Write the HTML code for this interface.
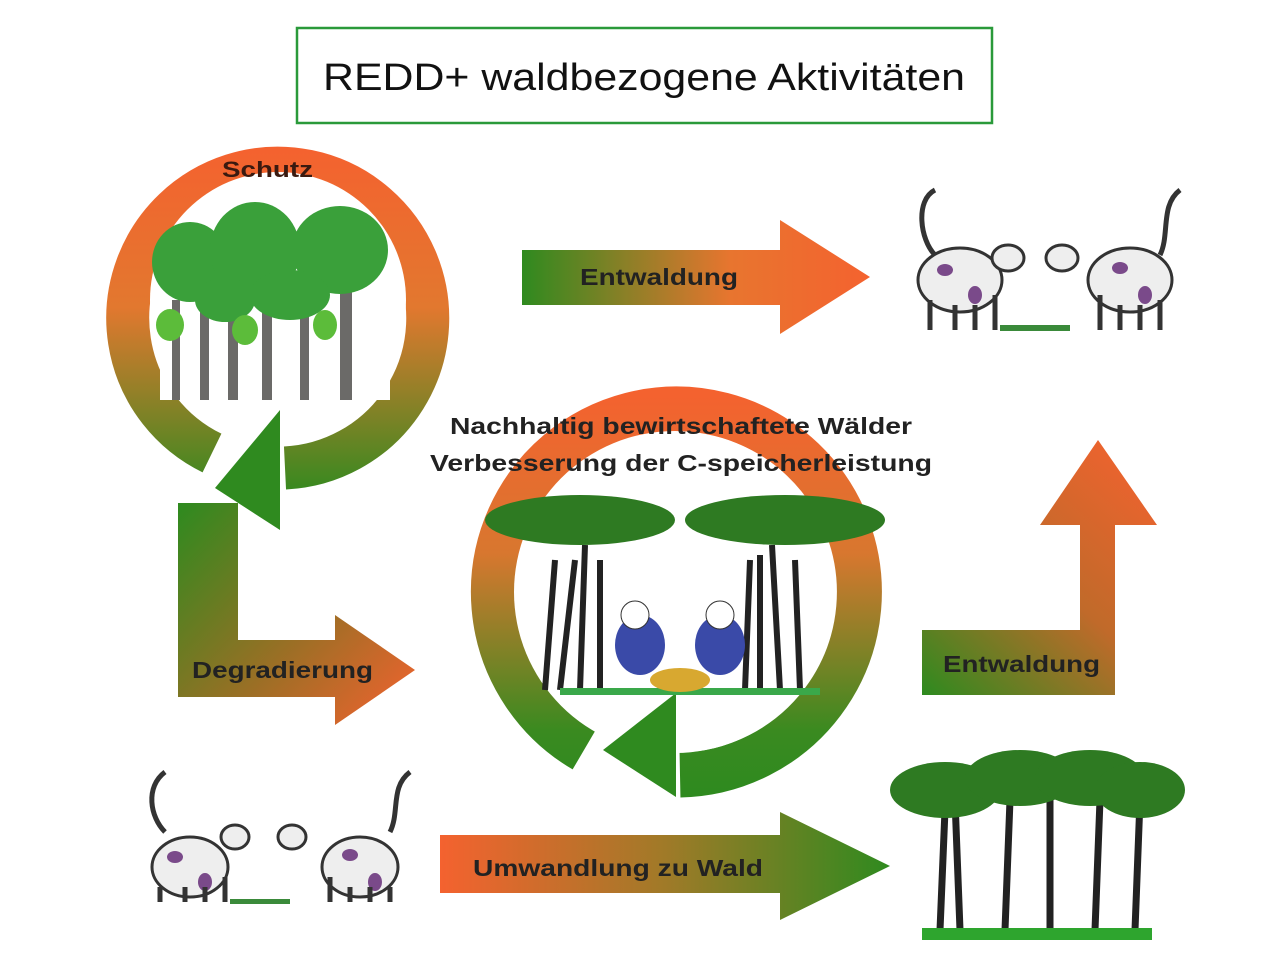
<!DOCTYPE html>
<html><head><meta charset="utf-8"><style>
html,body{margin:0;padding:0;background:#fff;}
svg{display:block;}
text{font-family:"Liberation Sans",sans-serif;}
</style></head><body>
<svg width="1280" height="959" viewBox="0 0 1280 959" xmlns="http://www.w3.org/2000/svg">
<defs>
<linearGradient id="g1" gradientUnits="userSpaceOnUse" x1="0" y1="150" x2="0" y2="500"><stop offset="0" stop-color="#f4622f"/><stop offset="0.45" stop-color="#e2782f"/><stop offset="1" stop-color="#2f8a1f"/></linearGradient>
<linearGradient id="g2" gradientUnits="userSpaceOnUse" x1="0" y1="395" x2="0" y2="790"><stop offset="0" stop-color="#f4622f"/><stop offset="0.4" stop-color="#d8772f"/><stop offset="0.85" stop-color="#3a8a20"/><stop offset="1" stop-color="#2f8a1f"/></linearGradient>
<linearGradient id="gh" x1="0" y1="0" x2="1" y2="0"><stop offset="0" stop-color="#2f8a1f"/><stop offset="0.6" stop-color="#e8752f"/><stop offset="1" stop-color="#f4622f"/></linearGradient>
<linearGradient id="gb" x1="0" y1="0" x2="1" y2="0"><stop offset="0" stop-color="#f4622f"/><stop offset="0.5" stop-color="#a07a28"/><stop offset="1" stop-color="#2f8a1f"/></linearGradient>
<linearGradient id="gl" gradientUnits="userSpaceOnUse" x1="180" y1="505" x2="415" y2="720"><stop offset="0" stop-color="#2f8a1f"/><stop offset="0.55" stop-color="#9a6f25"/><stop offset="1" stop-color="#f4622f"/></linearGradient>
<linearGradient id="gr" gradientUnits="userSpaceOnUse" x1="925" y1="695" x2="1150" y2="445"><stop offset="0" stop-color="#2f8a1f"/><stop offset="0.5" stop-color="#c06a2a"/><stop offset="1" stop-color="#f4622f"/></linearGradient>
</defs>

<rect x="297" y="28" width="695" height="95" fill="#fff" stroke="#2a9a3a" stroke-width="2.5"/>
<text x="323" y="90" font-size="38" textLength="642" lengthAdjust="spacingAndGlyphs" fill="#111">REDD+ waldbezogene Aktivitäten</text>

<!-- circle 1 -->
<path d="M212 453 A150 150 0 1 1 285 468" fill="none" stroke="url(#g1)" stroke-width="43"/>
<circle cx="278" cy="300" r="128" fill="#fff"/>
<polygon points="280,410 280,530 215,488" fill="#2f8a1f"/>
<g>
<rect x="160" y="300" width="230" height="100" fill="#fff"/>
<g fill="#6b6a68"><rect x="172" y="300" width="8" height="100"/><rect x="200" y="300" width="9" height="100"/><rect x="228" y="300" width="10" height="100"/><rect x="262" y="300" width="10" height="100"/><rect x="300" y="300" width="9" height="100"/><rect x="340" y="280" width="12" height="120"/></g>
<g fill="#3aa03a"><ellipse cx="190" cy="262" rx="38" ry="40"/><ellipse cx="255" cy="250" rx="45" ry="48"/><ellipse cx="340" cy="250" rx="48" ry="44"/><ellipse cx="225" cy="300" rx="30" ry="22"/><ellipse cx="290" cy="295" rx="40" ry="25"/></g>
<g fill="#5cbc3a"><ellipse cx="170" cy="325" rx="14" ry="16"/><ellipse cx="245" cy="330" rx="13" ry="15"/><ellipse cx="325" cy="325" rx="12" ry="15"/></g>
</g>
<text x="222" y="177" font-size="22" font-weight="bold" textLength="91" lengthAdjust="spacingAndGlyphs" fill="#3a1a10">Schutz</text>

<!-- top arrow -->
<polygon points="522,250 780,250 780,220 870,277 780,334 780,305 522,305" fill="url(#gh)"/>
<text x="580" y="285" font-size="23" font-weight="bold" textLength="158" lengthAdjust="spacingAndGlyphs" fill="#222">Entwaldung</text>

<!-- L arrow Degradierung -->
<polygon points="178,503 238,503 238,640 335,640 335,615 415,670 335,725 335,697 178,697" fill="url(#gl)"/>
<text x="192" y="678" font-size="23" font-weight="bold" textLength="181" lengthAdjust="spacingAndGlyphs" fill="#222">Degradierung</text>

<!-- circle 2 -->
<path d="M584 750 A183 183 0 1 1 680 775" fill="none" stroke="url(#g2)" stroke-width="45"/>
<circle cx="675" cy="592" r="161" fill="#fff"/>
<polygon points="676,693 676,797 603,750" fill="#2f8a1f"/>
<g stroke="#222" stroke-width="6" fill="none"><path d="M560 690 L575 560 M580 690 L585 545 M600 690 L600 560 M545 690 L555 560"/><path d="M760 690 L760 555 M780 690 L772 545 M800 690 L795 560 M745 690 L750 560"/></g>
<ellipse cx="580" cy="520" rx="95" ry="25" fill="#2e7a22"/>
<ellipse cx="785" cy="520" rx="100" ry="25" fill="#2e7a22"/>
<rect x="560" y="688" width="260" height="7" fill="#3aa84a"/>
<g><ellipse cx="640" cy="645" rx="25" ry="30" fill="#3a4aa8"/><ellipse cx="720" cy="645" rx="25" ry="30" fill="#3a4aa8"/><circle cx="635" cy="615" r="14" fill="#fff" stroke="#333"/><circle cx="720" cy="615" r="14" fill="#fff" stroke="#333"/><ellipse cx="680" cy="680" rx="30" ry="12" fill="#d8a830"/></g>
<text x="450" y="434" font-size="23" font-weight="bold" textLength="462" lengthAdjust="spacingAndGlyphs" fill="#222">Nachhaltig bewirtschaftete Wälder</text>
<text x="430" y="471" font-size="23" font-weight="bold" textLength="502" lengthAdjust="spacingAndGlyphs" fill="#222">Verbesserung der C-speicherleistung</text>

<!-- right L arrow -->
<polygon points="922,630 1080,630 1080,525 1040,525 1098,440 1157,525 1115,525 1115,695 922,695" fill="url(#gr)"/>
<text x="943" y="672" font-size="23" font-weight="bold" textLength="157" lengthAdjust="spacingAndGlyphs" fill="#222">Entwaldung</text>

<!-- bottom arrow -->
<polygon points="440,835 780,835 780,812 890,866 780,920 780,893 440,893" fill="url(#gb)"/>
<text x="473" y="876" font-size="23" font-weight="bold" textLength="290" lengthAdjust="spacingAndGlyphs" fill="#222">Umwandlung zu Wald</text>

<!-- cows top right -->
<g>
<g fill="#eee" stroke="#333" stroke-width="3">
<ellipse cx="960" cy="280" rx="42" ry="32"/><ellipse cx="1130" cy="280" rx="42" ry="32"/>
<ellipse cx="1008" cy="258" rx="16" ry="13"/><ellipse cx="1062" cy="258" rx="16" ry="13"/>
</g>
<g fill="#7a4a8a"><ellipse cx="945" cy="270" rx="8" ry="6"/><ellipse cx="975" cy="295" rx="7" ry="9"/><ellipse cx="1120" cy="268" rx="8" ry="6"/><ellipse cx="1145" cy="295" rx="7" ry="9"/></g>
<g stroke="#333" stroke-width="5" fill="none"><path d="M930 300 L930 330 M955 305 L955 330 M975 305 L975 330 M995 295 L995 330 M1100 295 L1100 330 M1120 305 L1120 330 M1140 305 L1140 330 M1160 300 L1160 330"/><path d="M935 255 C920 240 915 200 935 190"/><path d="M1160 255 C1170 235 1160 205 1180 190"/></g>
<rect x="1000" y="325" width="70" height="6" fill="#3a8a3a"/>
</g>

<!-- cows bottom left -->
<g transform="translate(-770,587)">
<g fill="#eee" stroke="#333" stroke-width="3">
<ellipse cx="960" cy="280" rx="38" ry="30"/><ellipse cx="1130" cy="280" rx="38" ry="30"/>
<ellipse cx="1005" cy="250" rx="14" ry="12"/><ellipse cx="1062" cy="250" rx="14" ry="12"/>
</g>
<g fill="#7a4a8a"><ellipse cx="945" cy="270" rx="8" ry="6"/><ellipse cx="975" cy="295" rx="7" ry="9"/><ellipse cx="1120" cy="268" rx="8" ry="6"/><ellipse cx="1145" cy="295" rx="7" ry="9"/></g>
<g stroke="#333" stroke-width="5" fill="none"><path d="M930 300 L930 315 M955 300 L955 315 M975 300 L975 315 M995 290 L995 315 M1100 290 L1100 315 M1120 300 L1120 315 M1140 300 L1140 315 M1160 300 L1160 315"/><path d="M935 245 C920 230 915 200 935 185"/><path d="M1160 245 C1170 225 1160 200 1180 185"/></g>
<rect x="1000" y="312" width="60" height="5" fill="#3a8a3a"/>
</g>

<!-- trees bottom right -->
<g stroke="#222" stroke-width="7" fill="none"><path d="M960 930 L955 800 M1005 930 L1010 800 M1050 930 L1050 800 M1095 930 L1100 800 M1135 930 L1140 800 M940 930 L945 810"/></g>
<g fill="#2e7a22"><ellipse cx="945" cy="790" rx="55" ry="28"/><ellipse cx="1020" cy="778" rx="55" ry="28"/><ellipse cx="1090" cy="778" rx="55" ry="28"/><ellipse cx="1140" cy="790" rx="45" ry="28"/></g>
<rect x="922" y="928" width="230" height="12" fill="#2ea52e"/>
</svg>
</body></html>
